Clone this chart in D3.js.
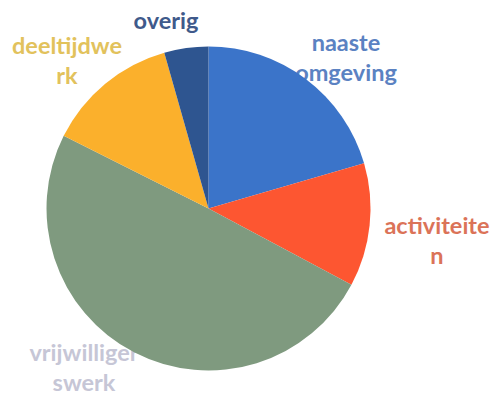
<!DOCTYPE html>
<html>
<head>
<meta charset="utf-8">
<script src="https://cdn.jsdelivr.net/npm/d3@7"></script>
<style>
html,body{margin:0;padding:0;background:#fff;}
svg{display:block;}
</style>
</head>
<body>
<svg id="chart" width="496" height="398"></svg>
<script>
const categories = ["naaste omgeving", "activiteiten", "vrijwilligerswerk", "deeltijdwerk", "overig"];
const values = [20.5, 12.3, 49.6, 13.2, 4.4];
const labelLines = [["naaste", "omgeving"], ["activiteite", "n"], ["vrijwilliger", "swerk"], ["deeltijdwe", "rk"], ["overig"]];
const sliceColors = ["#3b74c9", "#fd5631", "#7f9a7f", "#fbb02c", "#2e5590"];
const labelColors = ["#5b82c2", "#db7358", "#c6c6d6", "#e2c25c", "#3f5a8b"];

const svg = d3.select("#chart");
const cx = 208.5, cy = 208.5, r = 162;

const pie = d3.pie().sort(null).value(d => d)(values);
const arc = d3.arc().innerRadius(0).outerRadius(r);

const labelPos = [
  {x: 346, y: 51},
  {x: 437, y: 234},
  {x: 84, y: 361},
  {x: 67, y: 54},
  {x: 166, y: 29}
];

const labels = svg.append("g")
  .attr("font-family", "Lato, 'Open Sans', sans-serif")
  .attr("font-weight", "bold")
  .attr("font-size", 23.5)
  .attr("text-anchor", "middle");

labelLines.forEach((lines, i) => {
  const t = labels.append("text")
    .attr("x", labelPos[i].x)
    .attr("y", labelPos[i].y)
    .attr("fill", labelColors[i]);
  lines.forEach((ln, j) => {
    t.append("tspan")
      .attr("x", labelPos[i].x)
      .attr("dy", j === 0 ? 0 : 30)
      .text(ln);
  });
});

const g = svg.append("g").attr("transform", `translate(${cx},${cy})`);
g.selectAll("path")
  .data(pie)
  .join("path")
  .attr("d", arc)
  .attr("fill", (d, i) => sliceColors[i]);
</script>
</body>
</html>
